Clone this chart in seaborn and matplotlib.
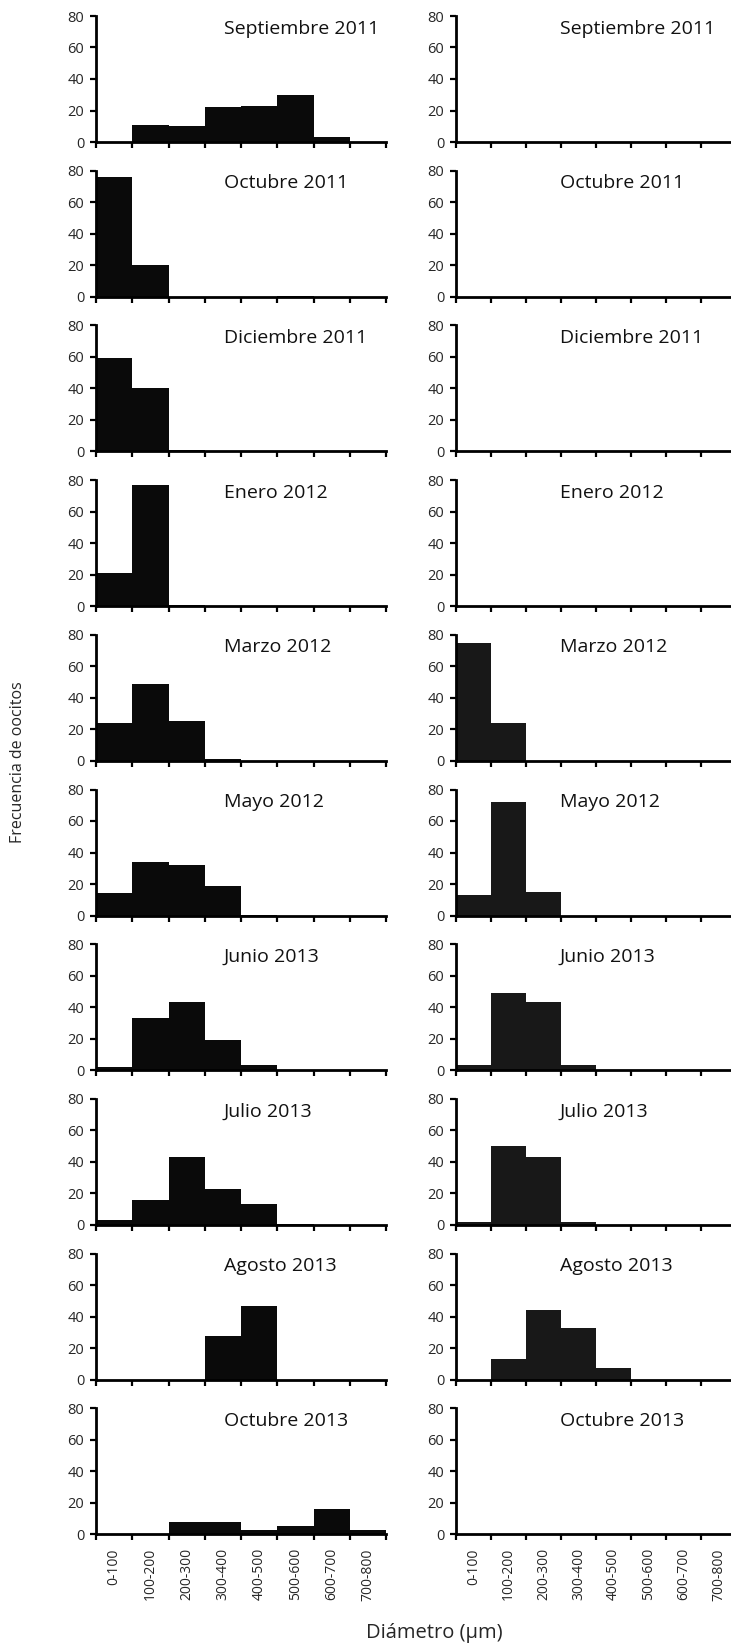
import numpy as np
import pandas as pd
import matplotlib
matplotlib.use("Agg")
import matplotlib.pyplot as plt
import seaborn as sns

# ---------------- data ----------------
bins = ["0-100", "100-200", "200-300", "300-400", "400-500", "500-600", "600-700", "700-800"]
months = ["Septiembre 2011", "Octubre 2011", "Diciembre 2011", "Enero 2012", "Marzo 2012",
          "Mayo 2012", "Junio 2013", "Julio 2013", "Agosto 2013", "Octubre 2013"]

left_sep11 = [0, 11, 10, 22, 23, 30, 3, 0]
left_oct11 = [76, 20, 0, 0, 0, 0.6, 0, 0]
left_dic11 = [59, 40, 1, 0, 0, 0, 0, 0]
left_ene12 = [21, 77, 1, 0, 0, 0, 0, 0]
left_mar12 = [24, 49, 25, 1, 0, 0, 0, 0]
left_may12 = [14, 34, 32, 18.5, 0.5, 0, 0, 0]
left_jun13 = [2, 33, 43, 19, 3, 0, 0, 0]
left_jul13 = [3, 16, 43, 23, 13, 0.5, 0, 0]
left_ago13 = [0, 0, 0, 28, 47, 0, 0, 0]
left_oct13 = [0, 0, 7.5, 7.5, 3, 5, 16, 3]

right_sep11 = [0, 0, 0, 0, 0, 0, 0, 0]
right_oct11 = [0, 0, 0, 0, 0, 0, 0, 0]
right_dic11 = [0, 0, 0, 0, 0, 0, 0, 0]
right_ene12 = [0, 0, 0, 0, 0, 0, 0, 0]
right_mar12 = [75, 24, 0, 0, 0, 0, 0, 0]
right_may12 = [13, 72, 15, 0, 0, 0, 0, 0]
right_jun13 = [3, 49, 43, 3, 0, 0, 0, 0]
right_jul13 = [2, 50, 43, 2, 0, 0, 0, 0]
right_ago13 = [0, 13, 44, 33, 7.5, 0, 0, 0]
right_oct13 = [0, 0, 0, 0, 0, 0, 0, 0]

left_series = [left_sep11, left_oct11, left_dic11, left_ene12, left_mar12,
               left_may12, left_jun13, left_jul13, left_ago13, left_oct13]
right_series = [right_sep11, right_oct11, right_dic11, right_ene12, right_mar12,
                right_may12, right_jun13, right_jul13, right_ago13, right_oct13]

yticks = [0, 20, 40, 60, 80]

# ---------------- style ----------------
sns.set_theme(style="white")
FONT = ["Open Sans", "DejaVu Sans"]
plt.rcParams["font.family"] = FONT

W, H = 731, 1648
DPI = 100
fig = plt.figure(figsize=(W / DPI, H / DPI), dpi=DPI)

top0 = 16.0
step = 154.7
ph = 126.0
cols = [
    dict(left=96.0, width=290.0, series=left_series, color="#0a0a0a", tx=0.44),
    dict(left=456.0, width=280.0, series=right_series, color="#181818", tx=0.37),
]

TXT = "#262626"

for c in cols:
    for i, (month, vals) in enumerate(zip(months, c["series"])):
        top = top0 + i * step
        rect = [c["left"] / W, 1 - (top + ph) / H, c["width"] / W, ph / H]
        ax = fig.add_axes(rect)
        df = pd.DataFrame({"bin": bins, "freq": vals})
        sns.barplot(data=df, x="bin", y="freq", order=bins, color=c["color"],
                    width=1.0, linewidth=0, saturation=1, ax=ax)
        ax.set_xlim(-0.5, len(bins) - 0.5)
        ax.set_ylim(0, 80)
        ax.set_yticks(yticks)
        ax.set_yticklabels([str(v) for v in yticks], fontsize=10.5, color=TXT)
        ax.set_xticks(np.arange(len(bins) + 1) - 0.5)
        ax.set_xticklabels([""] * (len(bins) + 1))
        ax.set_xticks(np.arange(len(bins)), minor=True)
        if i == len(months) - 1:
            ax.set_xticklabels(bins, minor=True, rotation=90, fontsize=10, color=TXT)
        else:
            ax.set_xticklabels([""] * len(bins), minor=True)
        ax.tick_params(axis="x", which="minor", length=0, pad=10)
        ax.tick_params(axis="both", which="major", direction="out", length=4, width=1.6,
                       color="black", bottom=True, left=True)
        ax.tick_params(axis="y", pad=4.5)
        for s in ["top", "right"]:
            ax.spines[s].set_visible(False)
        for s in ["left", "bottom"]:
            ax.spines[s].set_visible(True)
            ax.spines[s].set_linewidth(2.0)
            ax.spines[s].set_color("black")
        ax.set_xlabel("")
        ax.set_ylabel("")
        ax.grid(False)
        ax.set_facecolor("white")
        ax.text(c["tx"], 0.9, month, transform=ax.transAxes, ha="left", va="center",
                fontsize=14, color="#111111")

fig.text(18 / W, 1 - 762 / H, "Frecuencia de oocitos", rotation=90, ha="center", va="center",
         fontsize=11.5, color=TXT)
fig.text(434 / W, 1 - 1633 / H, "Diámetro (µm)", ha="center", va="center",
         fontsize=14.5, color=TXT)

fig.savefig("out.png", dpi=DPI, facecolor="white")
